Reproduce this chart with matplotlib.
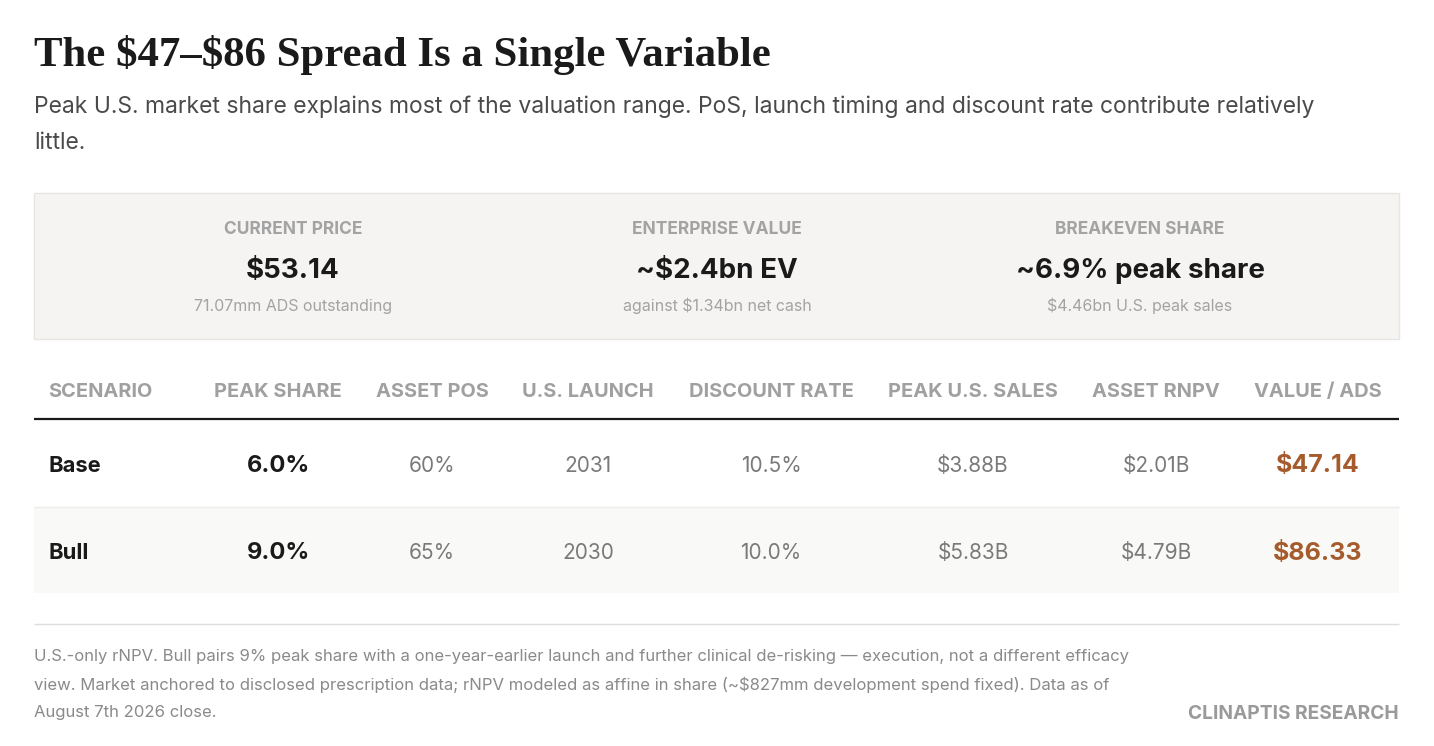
import matplotlib.pyplot as plt
from matplotlib.patches import Rectangle

# ---- data ----
title = "The \\$47\u2013\\$86 Spread Is a Single Variable"
subtitle_lines = [
    "Peak U.S. market share explains most of the valuation range. PoS, launch timing and discount rate contribute relatively",
    "little.",
]
kpi_labels = ["CURRENT PRICE", "ENTERPRISE VALUE", "BREAKEVEN SHARE"]
kpi_values = ["\\$53.14", "~\\$2.4bn EV", "~6.9% peak share"]
kpi_notes = ["71.07mm ADS outstanding", "against \\$1.34bn net cash", "\\$4.46bn U.S. peak sales"]

columns = ["SCENARIO", "PEAK SHARE", "ASSET POS", "U.S. LAUNCH", "DISCOUNT RATE",
           "PEAK U.S. SALES", "ASSET RNPV", "VALUE / ADS"]
scenarios = ["Base", "Bull"]
peak_share = ["6.0%", "9.0%"]
asset_pos = ["60%", "65%"]
us_launch = ["2031", "2030"]
discount_rate = ["10.5%", "10.0%"]
peak_sales = ["\\$3.88B", "\\$5.83B"]
asset_rnpv = ["\\$2.01B", "\\$4.79B"]
value_ads = ["\\$47.14", "\\$86.33"]

footnote_lines = [
    "U.S.-only rNPV. Bull pairs 9% peak share with a one-year-earlier launch and further clinical de-risking \u2014 execution, not a different efficacy",
    "view. Market anchored to disclosed prescription data; rNPV modeled as affine in share (~\\$827mm development spend fixed). Data as of",
    "August 7th 2026 close.",
]
source = "CLINAPTIS RESEARCH"

# ---- layout ----
W, H = 1434, 746
SANS = ["Inter", "DejaVu Sans"]
SERIF = ["Liberation Serif", "DejaVu Serif"]
LEFT, RIGHT = 34, 1399
col_x = [48, 278, 432, 588, 771, 973, 1156, 1318]
kpi_x = [293, 717, 1140]
row_y = [466, 553]
ACCENT = "#a65b2c"

fig = plt.figure(figsize=(W / 100, H / 100), dpi=100)
ax = fig.add_axes([0, 0, 1, 1])
ax.set_xlim(0, W)
ax.set_ylim(H, 0)
ax.axis("off")

ax.text(LEFT, 66, title, family=SERIF, weight="bold", fontsize=30.8, color="#1a1a1a",
        va="baseline", ha="left")
for i, line in enumerate(subtitle_lines):
    ax.text(LEFT, 107 + 36 * i, line, family=SANS, fontsize=16.5, color="#4a4a4a",
            va="center", ha="left")

# summary box
ax.add_patch(Rectangle((LEFT, 193), RIGHT - LEFT, 146, facecolor="#f5f4f2",
                       edgecolor="#e7e5e1", linewidth=1))
for x, lab, val, note in zip(kpi_x, kpi_labels, kpi_values, kpi_notes):
    ax.text(x, 229.5, lab, family=SANS, weight="bold", fontsize=12.5, color="#a3a3a3",
            ha="center", va="center")
    ax.text(x, 270.5, val, family=SANS, weight="bold", fontsize=20, color="#1a1a1a",
            ha="center", va="center")
    ax.text(x, 306, note, family=SANS, fontsize=11.5, color="#a3a3a3",
            ha="center", va="center")

# table header
for i, (x, c) in enumerate(zip(col_x, columns)):
    ax.text(x, 392, c, family=SANS, weight="bold", fontsize=14.4, color="#a0a0a0",
            ha="left" if i == 0 else "center", va="center")
ax.hlines(419, LEFT, RIGHT, color="#1a1a1a", linewidth=1.6)

# rows
ax.add_patch(Rectangle((LEFT, 507), RIGHT - LEFT, 86, facecolor="#f9f9f7", edgecolor="none"))
ax.hlines(507, LEFT, RIGHT, color="#ebebeb", linewidth=1)
rows = list(zip(scenarios, peak_share, asset_pos, us_launch, discount_rate,
                peak_sales, asset_rnpv, value_ads))
for y, row in zip(row_y, rows):
    for j, (x, cell) in enumerate(zip(col_x, row)):
        if j == 0:
            kw = dict(weight="bold", fontsize=15.8, color="#1a1a1a", ha="left")
        elif j == 1:
            kw = dict(weight="bold", fontsize=17, color="#1a1a1a", ha="center")
        elif j == len(row) - 1:
            kw = dict(weight="bold", fontsize=18, color=ACCENT, ha="center")
        else:
            kw = dict(fontsize=15, color="#7a7a7a", ha="center")
        ax.text(x, y, cell, family=SANS, va="center", **kw)

# footer
ax.hlines(624, LEFT, RIGHT, color="#dddddd", linewidth=1)
for i, line in enumerate(footnote_lines):
    ax.text(LEFT, 657 + 27.5 * i, line, family=SANS, fontsize=12, color="#8a8a8a",
            ha="left", va="center")
ax.text(RIGHT, 714, source, family=SANS, weight="bold", fontsize=13.8, color="#9a9a9a",
        ha="right", va="center")

fig.savefig("out.png", dpi=100, facecolor="white")
